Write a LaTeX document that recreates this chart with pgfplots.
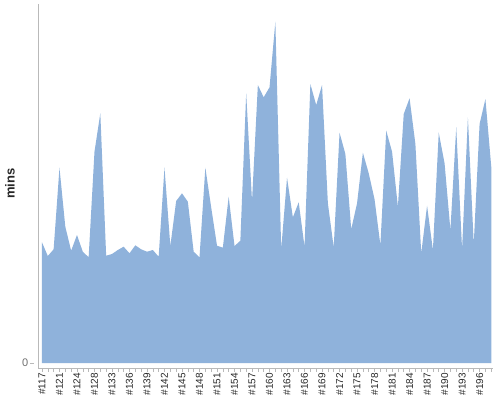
\documentclass[border=0pt]{standalone}
\usepackage{pgfplots}
\pgfplotsset{compat=1.18}
\usepackage{fontspec}
\setmainfont{Liberation Sans}
\definecolor{areablue}{RGB}{143,178,219}
\definecolor{axisgray}{RGB}{185,185,185}
\definecolor{labelgray}{RGB}{110,110,110}
\begin{document}
\begin{tikzpicture}
\path[use as bounding box] (0,0) rectangle (500pt,400pt);
\begin{axis}[
  at={(38pt,32pt)}, anchor=south west,
  scale only axis, width=455pt, height=364pt,
  xmin=-0.68, xmax=77.3, ymin=-5, ymax=359,
  axis lines=left,
  axis line style={-, draw=axisgray, line width=0.8pt},
  xtick={0,3,...,75},
  xticklabels={\#117,\#121,\#124,\#128,\#133,\#136,\#139,\#142,\#145,\#148,\#151,\#154,\#157,\#160,\#163,\#166,\#169,\#172,\#175,\#178,\#181,\#184,\#187,\#190,\#193,\#196},
  minor xtick={0,1,...,77},
  ytick={0},
  tick align=outside,
  major tick length=3.5pt,
  minor tick length=3.5pt,
  every tick/.style={draw=axisgray, line width=0.6pt},
  ytick style={xshift=-4pt},
  xticklabel style={rotate=90, anchor=east, font=\fontsize{10}{12}\selectfont, text=black!85, inner sep=1.5pt},
  yticklabel style={font=\fontsize{11}{13}\selectfont, text=labelgray, inner sep=2pt, xshift=-4pt},
  /pgf/number format/assume math mode=true,
  ylabel={mins},
  every axis y label/.style={at={(rel axis cs:0,0.5)}, rotate=90, anchor=south, inner sep=0pt, yshift=23pt, xshift=2.5pt},
  ylabel style={font=\bfseries\fontsize{13}{15}\selectfont, text=black!85},
]
\addplot[fill=areablue, draw=none] coordinates {
(0,0)
(0,120.7) (1,107.0) (2,113.7) (3,195.3) (4,136.3) (5,112.3) (6,128.0) (7,111.3) (8,105.7) (9,211.3)
(10,249.7) (11,107.3) (12,109.0) (13,113.0) (14,116.3) (15,109.7) (16,117.7) (17,113.7) (18,111.3) (19,113.0)
(20,106.3) (21,195.3) (22,117.0) (23,162.0) (24,169.7) (25,161.3) (26,111.3) (27,105.7) (28,195.3) (29,155.7)
(30,117.3) (31,115.3) (32,166.3) (33,117.0) (34,122.3) (35,269.7) (36,162.0) (37,278.0) (38,265.7) (39,275.7)
(40,341.3) (41,113.7) (42,185.3) (43,145.7) (44,160.7) (45,116.3) (46,279.0) (47,258.0) (48,278.0) (49,159.7)
(50,115.7) (51,230.3) (52,209.0) (53,133.7) (54,159.7) (55,210.3) (56,189.7) (57,163.7) (58,118.0) (59,232.3)
(60,211.3) (61,156.3) (62,249.0) (63,264.7) (64,219.0) (65,109.7) (66,157.3) (67,113.0) (68,230.3) (69,199.7)
(70,133.0) (71,235.7) (72,113.7) (73,245.7) (74,119.0) (75,239.0) (76,264.0) (77,196.3)
(77,0)
} -- cycle;
\end{axis}
\end{tikzpicture}
\end{document}
